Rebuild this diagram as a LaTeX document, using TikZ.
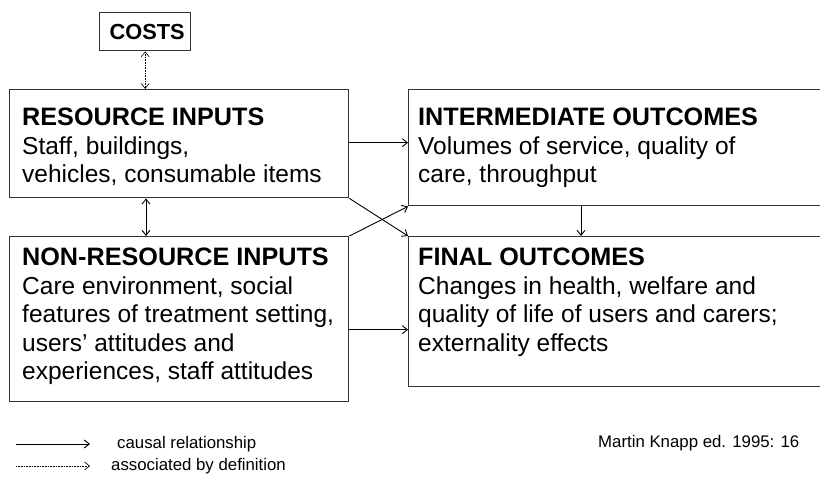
\documentclass[tikz,border=0pt]{standalone}
\usepackage{fontspec}
\setmainfont{Liberation Sans}
\usetikzlibrary{arrows.meta}
\newcommand{\boxtitle}[1]{{\fontsize{25.2}{28.5}\selectfont\bfseries #1}}
\begin{document}
\begin{tikzpicture}[x=1pt,y=-1pt,
  box/.style={draw=black!80,line width=1.4pt,inner sep=0pt,anchor=north west},
  boxtext/.style={anchor=north west,inner sep=0pt,align=left,
    font=\fontsize{24.5}{28.5}\selectfont},
  legendtext/.style={anchor=west,inner sep=0pt,font=\fontsize{16.8}{20}\selectfont},
  link/.style={line width=0.9pt,-{Straight Barb[length=5pt,width=8pt,line width=0.9pt]}},
  twoway/.style={line width=0.9pt,{Straight Barb[length=5pt,width=8pt,line width=0.9pt]}-{Straight Barb[length=5pt,width=8pt,line width=0.9pt]}},
  bydef/.style={line width=0.6pt,dash pattern=on 0.8pt off 0.8pt,
    {Straight Barb[length=5pt,width=8pt,line width=0.6pt]}-{Straight Barb[length=5pt,width=8pt,line width=0.6pt]}},
  bydefone/.style={line width=0.6pt,dash pattern=on 0.8pt off 0.8pt,
    -{Straight Barb[length=5pt,width=8pt,line width=0.6pt]}},
]
\useasboundingbox (0,0) rectangle (820,478);
\clip (0,0) rectangle (820,478);

% boxes
\node[box,minimum width=91pt,minimum height=38pt] (costs) at (99,12) {};
\node[font=\fontsize{21.8}{24}\selectfont\bfseries,inner sep=0pt] (costst) at ([xshift=2pt]costs.center) {COSTS};

\node[box,minimum width=339pt,minimum height=108pt] (ri) at (9,89) {};
\node[box,minimum width=339pt,minimum height=165pt] (nr) at (9,236) {};
\node[box,minimum width=430pt,minimum height=116pt] (ii) at (408,89) {};
\node[box,minimum width=430pt,minimum height=150pt] (fo) at (408,236) {};

% box texts
\node[boxtext] (rit) at (22,108) {\boxtitle{RESOURCE INPUTS}\\Staff, buildings,\\vehicles, consumable items};
\node[boxtext] (nrt) at (22,248) {\boxtitle{NON-RESOURCE INPUTS}\\Care environment, social\\features of treatment setting,\\users' attitudes and\\experiences, staff attitudes};
\node[boxtext] (iit) at (418,108) {\boxtitle{INTERMEDIATE OUTCOMES}\\Volumes of service, quality of\\care, throughput};
\node[boxtext] (fot) at (418,248) {\boxtitle{FINAL OUTCOMES}\\Changes in health, welfare and\\quality of life of users and carers;\\externality effects};

% connectors
\draw[bydef] (costs.south) -- (costs.south |- ri.north);
\draw[twoway] ([xshift=137pt]ri.south west) -- ([xshift=137pt]ri.south west |- nr.north);
\draw[link] ([yshift=1pt]ri.east) -- ([yshift=1pt]ri.east -| ii.west);
\draw[link] (ri.south east) -- (fo.north west);
\draw[link] (nr.north east) -- (ii.south west);
\draw[link] ([xshift=173pt]ii.south west) -- ([xshift=173pt]ii.south west |- fo.north);
\draw[link] ([yshift=-10.5pt]nr.east) -- ([yshift=-10.5pt]nr.east -| fo.west);

% legend
\coordinate (l1s) at (16,444);
\coordinate (l1e) at (90,444);
\coordinate (l2s) at (16,466);
\coordinate (l2e) at (90,466);
\draw[link] (l1s) -- (l1e);
\draw[bydefone] (l2s) -- (l2e);
\node[legendtext] (l1t) at (117,444) {causal relationship};
\node[legendtext] (l2t) at (111,466) {associated by definition};
\node[legendtext] (src) at (598,443) {Martin Knapp ed. 1995: 16};
\end{tikzpicture}
\end{document}
